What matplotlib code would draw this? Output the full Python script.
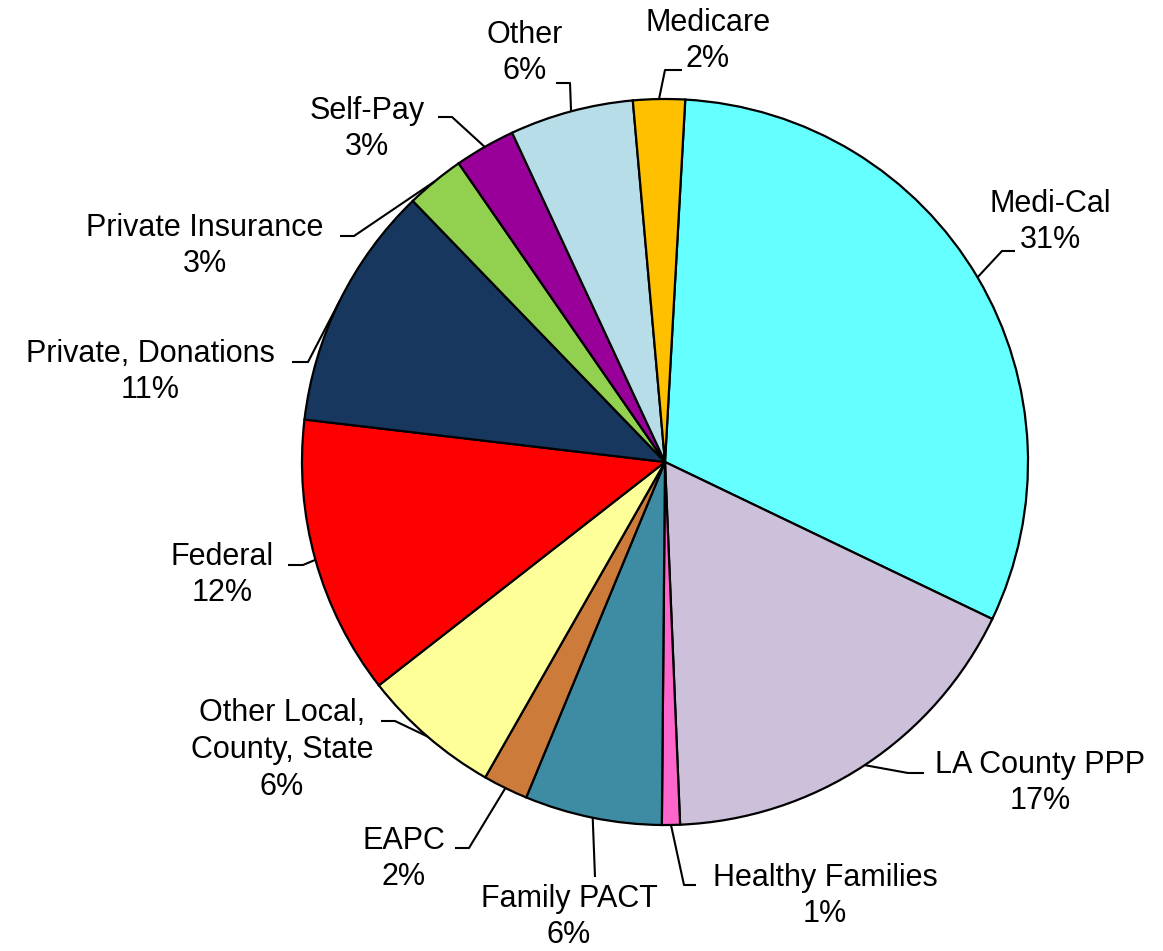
import numpy as np
import matplotlib
matplotlib.use("Agg")
import matplotlib.pyplot as plt

plt.rcParams['font.family'] = ['Liberation Sans', 'DejaVu Sans']

# data (share of revenue, clockwise from the top)
categories = ['Medi-Cal', 'LA County PPP', 'Healthy Families', 'Family PACT', 'EAPC',
              'Other Local,\nCounty, State', 'Federal', 'Private, Donations',
              'Private Insurance', 'Self-Pay', 'Other', 'Medicare']
shares = [31.2, 17.2, 0.8, 6.1, 2.0, 6.2, 12.4, 10.9, 2.6, 2.7, 5.5, 2.3]
colors = ['#66FFFF', '#CCC0DA', '#FF66CC', '#3D8CA3', '#CD7B3A', '#FFFF99',
          '#FF0000', '#17375E', '#92D050', '#990099', '#B7DDE8', '#FFC000']

W, H = 1163, 951
# layout in pixels from top-left: label centre, leader elbow, leader end
label_pos = [(1050, 222), (1040, 783), (825, 896), (569, 917), (404, 859), (282, 750),
             (222, 575), (150, 372), (205, 246), (367, 129), (525, 53), (708, 41)]
elbows = [(1002, 251), (908, 773), (684, 885), (595, 877), (469, 848), (395, 721),
          (303, 565), (308, 362), (354, 236), (452, 117), (570, 83), (665, 70)]
ends = [(1015, 251), (924, 773), (696, 885), (595, 877), (455, 848), (381, 721),
        (288, 565), (292, 362), (340, 236), (438, 117), (556, 83), (682, 70)]

def px(p):
    return p[0], H - p[1]

fig = plt.figure(figsize=(W / 100, H / 100), dpi=100)
ax = fig.add_axes([0, 0, 1, 1])
ax.set_xlim(0, W)
ax.set_ylim(0, H)
ax.axis('off')

cx, cy = px((665, 462))
wedges, _ = ax.pie(shares, colors=colors, startangle=86.8, counterclock=False,
                   center=(cx, cy), radius=363,
                   wedgeprops=dict(edgecolor='black', linewidth=1.6))
ax.set_xlim(0, W)
ax.set_ylim(0, H)

total = sum(shares)
for w, name, v, lp, el, en in zip(wedges, categories, shares, label_pos, elbows, ends):
    mid = np.deg2rad((w.theta1 + w.theta2) / 2)
    sx = cx + w.r * np.cos(mid)
    sy = cy + w.r * np.sin(mid)
    ex, ey = px(el)
    nx, ny = px(en)
    ax.plot([sx, ex, nx], [sy, ey, ny], color='black', lw=1.5, solid_capstyle='butt')
    pct = int(round(v / total * 100))
    tx, ty = px(lp)
    ax.text(tx, ty, f'{name}\n{pct}%', ha='center', va='center', fontsize=22,
            linespacing=1.3)

fig.savefig('out.png', dpi=100)
